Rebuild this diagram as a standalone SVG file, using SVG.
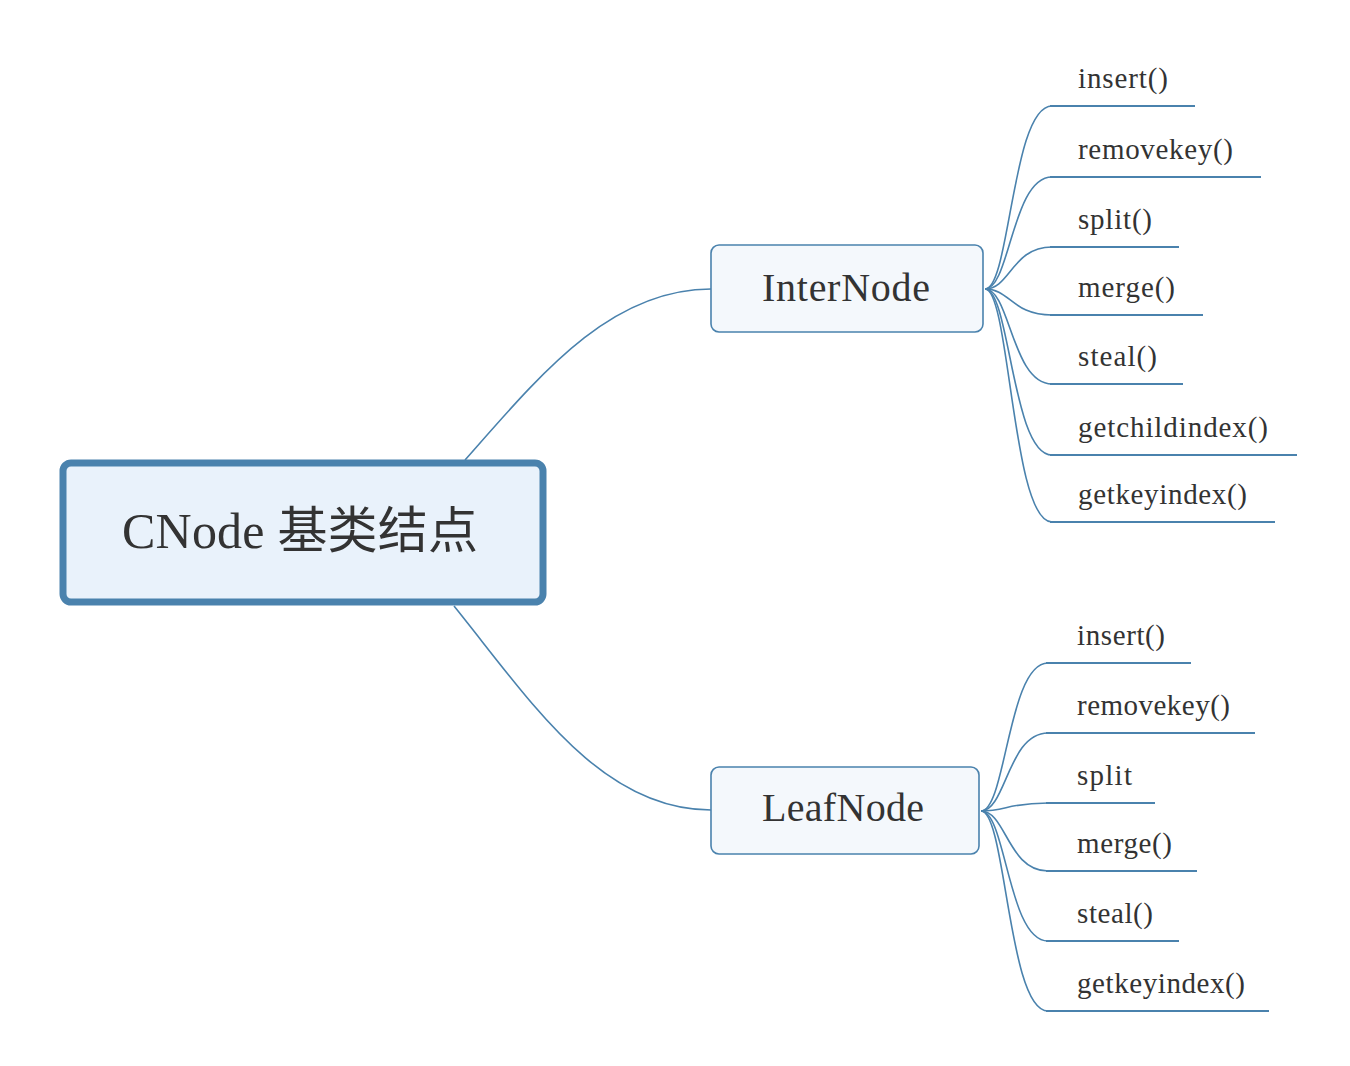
<svg xmlns="http://www.w3.org/2000/svg" width="1350" height="1066" viewBox="0 0 1350 1066">
<style>
.bg{fill:#ffffff}
.conn{fill:none;stroke:#4a82ad;stroke-width:1.6}
.under{fill:none;stroke:#4a82ad;stroke-width:2}
.root{fill:#e9f2fb;stroke:#4a82ad;stroke-width:7}
.main{fill:#f4f8fc;stroke:#4a82ad;stroke-width:1.6}
.t{font-family:"Liberation Serif","Noto Sans CJK SC",serif;fill:#333333}
.rt{font-size:50px}
.mt{font-size:40px}
.lt{font-size:29px}
</style>
<rect class="bg" x="0" y="0" width="1350" height="1066"/>
<g id="connectors">
<path class="conn" d="M465,460 C540,375 610,289 711,289"/>
<path class="conn" d="M454,606 C530,700 600,810 711,810"/>
<path class="conn" d="M985,289 C1010,289 1012,106 1052,106"/>
<path class="conn" d="M985,289 C1010,289 1012,177 1052,177"/>
<path class="conn" d="M985,289 C1010,289 1012,247 1052,247"/>
<path class="conn" d="M985,289 C1010,289 1012,315 1052,315"/>
<path class="conn" d="M985,289 C1010,289 1012,384 1052,384"/>
<path class="conn" d="M985,289 C1010,289 1012,455 1052,455"/>
<path class="conn" d="M985,289 C1010,289 1012,522 1052,522"/>
<path class="conn" d="M981,811 C1006,811 1008,663 1048,663"/>
<path class="conn" d="M981,811 C1006,811 1008,733 1048,733"/>
<path class="conn" d="M981,811 C1006,811 1008,803 1048,803"/>
<path class="conn" d="M981,811 C1006,811 1008,871 1048,871"/>
<path class="conn" d="M981,811 C1006,811 1008,941 1048,941"/>
<path class="conn" d="M981,811 C1006,811 1008,1011 1048,1011"/>
</g>
<g id="root">
<rect class="root" x="63" y="463" width="480" height="139" rx="8"/>
<text class="t rt" x="300" y="548" text-anchor="middle" textLength="356">CNode 基类结点</text>
</g>
<g id="internode">
<rect class="main" x="711" y="245" width="272" height="87" rx="8"/>
<text class="t mt" x="846" y="301" text-anchor="middle" textLength="168">InterNode</text>
</g>
<g id="leafnode">
<rect class="main" x="711" y="767" width="268" height="87" rx="8"/>
<text class="t mt" x="843" y="821" text-anchor="middle" textLength="162">LeafNode</text>
</g>
<g id="inter-insert"><path class="under" d="M1050,106 H1195"/><text class="t lt" x="1078" y="88" textLength="90">insert()</text></g>
<g id="inter-removekey"><path class="under" d="M1050,177 H1261"/><text class="t lt" x="1078" y="159" textLength="155">removekey()</text></g>
<g id="inter-split"><path class="under" d="M1050,247 H1179"/><text class="t lt" x="1078" y="229" textLength="74">split()</text></g>
<g id="inter-merge"><path class="under" d="M1050,315 H1203"/><text class="t lt" x="1078" y="297" textLength="97">merge()</text></g>
<g id="inter-steal"><path class="under" d="M1050,384 H1183"/><text class="t lt" x="1078" y="366" textLength="79">steal()</text></g>
<g id="inter-getchildindex"><path class="under" d="M1050,455 H1297"/><text class="t lt" x="1078" y="437" textLength="190">getchildindex()</text></g>
<g id="inter-getkeyindex"><path class="under" d="M1050,522 H1275"/><text class="t lt" x="1078" y="504" textLength="169">getkeyindex()</text></g>
<g id="leaf-insert"><path class="under" d="M1046,663 H1191"/><text class="t lt" x="1077" y="645" textLength="88">insert()</text></g>
<g id="leaf-removekey"><path class="under" d="M1046,733 H1255"/><text class="t lt" x="1077" y="715" textLength="153">removekey()</text></g>
<g id="leaf-split"><path class="under" d="M1046,803 H1155"/><text class="t lt" x="1077" y="785" textLength="55">split</text></g>
<g id="leaf-merge"><path class="under" d="M1046,871 H1197"/><text class="t lt" x="1077" y="853" textLength="95">merge()</text></g>
<g id="leaf-steal"><path class="under" d="M1046,941 H1179"/><text class="t lt" x="1077" y="923" textLength="76">steal()</text></g>
<g id="leaf-getkeyindex"><path class="under" d="M1046,1011 H1269"/><text class="t lt" x="1077" y="993" textLength="168">getkeyindex()</text></g>
</svg>
